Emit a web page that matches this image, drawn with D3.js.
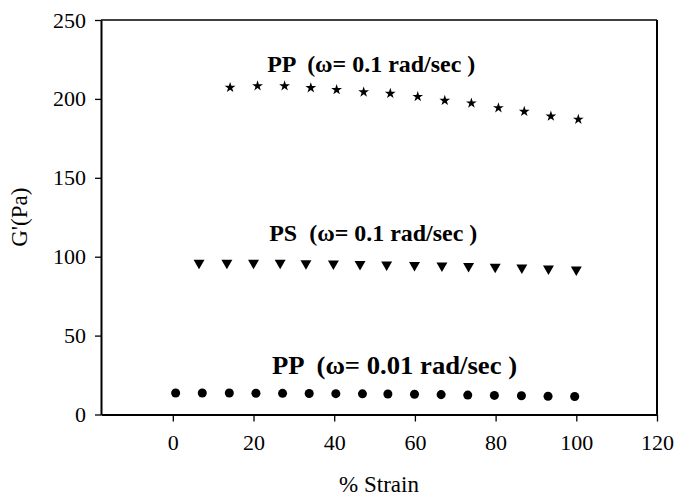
<!DOCTYPE html>
<html>
<head>
<meta charset="utf-8">
<script src="https://cdn.jsdelivr.net/npm/d3@7"></script>
<style>
  body { margin: 0; background: #fff; }
  svg { display: block; }
  svg text { font-family: "Liberation Serif", Tinos, "Times New Roman", Times, "DejaVu Serif", serif; fill: #000; }
</style>
</head>
<body>
<div id="chart"></div>
<script>
// data
const ppHighStrain = [14.2, 21, 27.7, 34.2, 40.6, 47.3, 53.9, 60.7, 67.4, 74, 80.7, 87.1, 93.7, 100.5];
const ppHighG = [207.2, 208.2, 208.2, 207, 205.8, 204.3, 203.4, 201.4, 199, 197.3, 194.3, 192, 189, 187];

const psStrain = [6.5, 13.4, 20, 26.6, 33, 39.8, 46.4, 53, 59.9, 66.7, 73.3, 79.9, 86.5, 93.1, 100];
const psG = [96, 96, 96, 96, 95.8, 95.6, 95.3, 95, 94.7, 94.3, 94, 93.5, 93, 92.4, 91.8];

const ppLowStrain = [0.7, 7.3, 14, 20.6, 27.2, 33.8, 40.4, 47, 53.3, 59.9, 66.5, 73.1, 79.7, 86.4, 93, 99.6];
const ppLowG = [13.6, 13.6, 13.6, 13.5, 13.4, 13.3, 13.2, 13.1, 13, 12.8, 12.6, 12.3, 12.1, 11.9, 11.6, 11.4];

const xTicks = [0, 20, 40, 60, 80, 100, 120];
const yTicks = [0, 50, 100, 150, 200, 250];

const labels = ["PP  (\u03c9= 0.1 rad/sec )", "PS  (\u03c9= 0.1 rad/sec )", "PP  (\u03c9= 0.01 rad/sec )"];
const labelX = [23.4, 23.9, 24.6];
const labelY = [217, 109.8, 25.6];

const serif = "'Liberation Serif', Tinos, 'Times New Roman', Times, 'DejaVu Serif', serif";

const width = 678, height = 496;
const margin = { top: 20, right: 21, bottom: 81.5, left: 101 };

const svg = d3.select("#chart").append("svg")
  .attr("width", width)
  .attr("height", height);

const x = d3.scaleLinear()
  .domain([-17.8, 120])
  .range([margin.left, width - margin.right]);

const y = d3.scaleLinear()
  .domain([0, 250])
  .range([height - margin.bottom, margin.top]);

// frame: top and right borders
svg.append("line")
  .attr("x1", x(-17.8)).attr("x2", x(120))
  .attr("y1", y(250)).attr("y2", y(250))
  .attr("stroke", "#000").attr("stroke-width", 1.5);
svg.append("line")
  .attr("x1", x(120)).attr("x2", x(120))
  .attr("y1", y(250)).attr("y2", y(0))
  .attr("stroke", "#000").attr("stroke-width", 2);

const xAxis = svg.append("g")
  .attr("transform", `translate(0,${y(0)})`)
  .call(d3.axisBottom(x).tickValues(xTicks).tickSize(7).tickPadding(13).tickSizeOuter(0));

const yAxis = svg.append("g")
  .attr("transform", `translate(${x(-17.8)},0)`)
  .call(d3.axisLeft(y).tickValues(yTicks).tickSize(6).tickPadding(9).tickSizeOuter(0));

[xAxis, yAxis].forEach(a => {
  a.attr("font-family", serif).attr("font-size", 22);
  a.select(".domain").attr("stroke", "#000").attr("stroke-width", 2);
  a.selectAll(".tick line").attr("stroke", "#000").attr("stroke-width", 1.3);
  a.selectAll(".tick text")
    .style("font-family", serif)
    .style("font-size", "22px")
    .attr("fill", "#000");
});

// axis titles
svg.append("text")
  .attr("x", (x(-17.8) + x(120)) / 2)
  .attr("y", 492)
  .attr("text-anchor", "middle")
  .style("font-family", serif)
  .style("font-size", "23px")
  .text("% Strain");

svg.append("text")
  .attr("transform", `translate(27,${(y(0) + y(250)) / 2}) rotate(-90)`)
  .attr("text-anchor", "middle")
  .style("font-family", serif)
  .style("font-size", "23px")
  .text("G'(Pa)");

// markers
const star = d3.symbol().type(d3.symbolStar).size(36);
const tri = d3.symbol().type(d3.symbolTriangle).size(52);
const dot = d3.symbol().type(d3.symbolCircle).size(64);

svg.append("g").selectAll("path")
  .data(d3.zip(ppHighStrain, ppHighG))
  .join("path")
  .attr("transform", d => `translate(${x(d[0])},${y(d[1])})`)
  .attr("d", star)
  .attr("fill", "#000");

svg.append("g").selectAll("path")
  .data(d3.zip(psStrain, psG))
  .join("path")
  .attr("transform", d => `translate(${x(d[0])},${y(d[1])}) rotate(180)`)
  .attr("d", tri)
  .attr("fill", "#000");

svg.append("g").selectAll("path")
  .data(d3.zip(ppLowStrain, ppLowG))
  .join("path")
  .attr("transform", d => `translate(${x(d[0])},${y(d[1])})`)
  .attr("d", dot)
  .attr("fill", "#000");

// series annotations
const labelLen = [208, 208, 245];
const labelSize = [23, 23, 25];
svg.append("g").selectAll("text")
  .data(labels)
  .join("text")
  .attr("x", (d, i) => x(labelX[i]))
  .attr("y", (d, i) => y(labelY[i]))
  .style("font-family", serif)
  .style("font-weight", "bold")
  .style("font-size", (d, i) => labelSize[i] + "px")
  .attr("textLength", (d, i) => labelLen[i])
  .attr("lengthAdjust", "spacingAndGlyphs")
  .style("white-space", "pre")
  .text(d => d);
</script>
</body>
</html>
